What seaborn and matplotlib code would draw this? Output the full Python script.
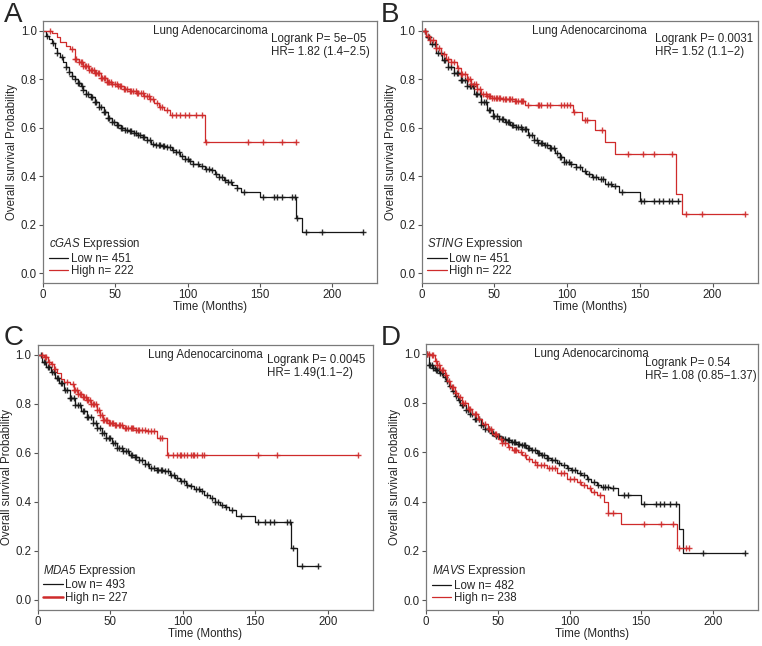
import numpy as np
import pandas as pd
import seaborn as sns
import matplotlib.pyplot as plt

# ---- data (time in months, survival probability) ----
A_LOW_T = [0, 2, 4, 6, 8, 10, 12, 14, 16, 18, 20, 22, 24, 26, 28, 30, 33, 36, 39, 42, 45, 48, 51, 54, 57, 60, 63, 66, 69, 72,
           75, 78, 82, 86, 89, 92, 95, 98, 101, 104, 108, 112, 116, 119, 122, 125, 128, 131, 134, 137, 150, 175, 179, 221]
A_LOW_S = [1.0, 0.98, 0.965, 0.95, 0.93, 0.91, 0.89, 0.87, 0.85, 0.83, 0.815, 0.80, 0.785, 0.77, 0.755, 0.74, 0.725, 0.705,
           0.685, 0.665, 0.64, 0.625, 0.61, 0.60, 0.592, 0.585, 0.578, 0.572, 0.562, 0.548, 0.535, 0.528, 0.524, 0.52, 0.51,
           0.498, 0.485, 0.47, 0.462, 0.452, 0.442, 0.432, 0.425, 0.41, 0.398, 0.385, 0.375, 0.362, 0.35, 0.337, 0.315,
           0.228, 0.17, 0.17]
A_LOW_CENS = [3, 7, 10, 13, 16, 18, 20, 22, 24, 25, 27, 28, 30, 31, 33, 34, 36, 37, 39, 40, 42, 43, 45, 46, 48, 49, 51,
              52, 54, 55, 57, 58, 60, 61, 63, 64, 66, 67, 69, 70, 72, 74, 76, 78, 80, 81, 83, 84, 86, 88, 90, 92, 94, 96,
              98, 100, 102, 104, 107, 110, 113, 115, 117, 120, 122, 124, 126, 128, 130, 134, 139, 152, 160, 162, 165,
              172, 174, 176, 182, 193, 221]
A_HIGH_T = [0, 6, 10, 12, 16, 19, 22, 25, 28, 32, 36, 40, 44, 48, 52, 56, 60, 65, 70, 74, 77, 80, 84, 88, 112, 175]
A_HIGH_S = [1.0, 0.99, 0.975, 0.955, 0.935, 0.925, 0.885, 0.87, 0.855, 0.84, 0.825, 0.805, 0.79, 0.78, 0.77, 0.76, 0.752,
            0.742, 0.732, 0.72, 0.70, 0.685, 0.675, 0.652, 0.543, 0.543]
A_HIGH_CENS = [5, 20, 22, 23, 25, 26, 27, 28, 29, 30, 31, 32, 33, 34, 35, 36, 37, 38, 39, 40, 41, 42, 43, 44, 45, 46, 47,
               48, 50, 51, 52, 53, 54, 56, 57, 58, 60, 61, 62, 64, 65, 66, 68, 69, 70, 72, 73, 74, 76, 79, 81, 82, 86,
               89, 92, 95, 98, 101, 106, 110, 113, 142, 152, 165, 175]

B_LOW_T = [0, 3, 6, 10, 14, 18, 22, 27, 31, 36, 41, 45, 49, 53, 57, 61, 65, 69, 73, 77, 80, 84, 88, 92, 95, 98, 102, 106,
           110, 113, 117, 121, 126, 131, 136, 150, 177]
B_LOW_S = [1.0, 0.975, 0.945, 0.91, 0.88, 0.85, 0.825, 0.795, 0.77, 0.74, 0.705, 0.675, 0.65, 0.635, 0.625, 0.613, 0.603,
           0.595, 0.57, 0.55, 0.536, 0.527, 0.518, 0.495, 0.478, 0.46, 0.45, 0.44, 0.42, 0.408, 0.398, 0.388, 0.37, 0.36,
           0.335, 0.30, 0.30]
B_LOW_CENS = [2, 4, 5, 7, 9, 11, 13, 15, 16, 18, 20, 22, 24, 25, 27, 28, 30, 31, 33, 34, 35, 37, 38, 40, 41, 43, 44, 46,
              47, 49, 50, 52, 53, 55, 56, 58, 59, 60, 62, 63, 65, 66, 68, 69, 71, 72, 74, 76, 77, 79, 80, 82, 83, 85, 86,
              88, 89, 91, 93, 95, 96, 98, 99, 101, 103, 106, 109, 112, 115, 118, 120, 123, 125, 128, 130, 133, 138, 151,
              153, 160, 163, 166, 170, 172, 176]
B_HIGH_T = [0, 3, 6, 10, 13, 17, 20, 24, 27, 31, 34, 38, 41, 45, 48, 55, 64, 71, 104, 110, 119, 126, 133, 175, 179, 222]
B_HIGH_S = [1.0, 0.98, 0.96, 0.93, 0.905, 0.885, 0.87, 0.845, 0.822, 0.80, 0.78, 0.76, 0.74, 0.73, 0.724, 0.717, 0.71,
            0.694, 0.665, 0.63, 0.59, 0.54, 0.49, 0.326, 0.245, 0.245]
B_HIGH_CENS = [2, 4, 6, 8, 10, 12, 15, 18, 20, 22, 25, 27, 28, 30, 32, 33, 34, 36, 37, 38, 40, 42, 44, 45, 46, 47, 48, 50,
               51, 52, 53, 54, 56, 57, 58, 60, 61, 62, 64, 65, 66, 68, 69, 70, 73, 80, 81, 82, 86, 88, 96, 98, 100, 102,
               105, 112, 114, 124, 142, 152, 160, 172, 182, 193, 222]

C_LOW_T = [0, 3, 6, 9, 12, 15, 18, 22, 26, 30, 34, 38, 41, 44, 47, 51, 55, 59, 63, 67, 70, 74, 77, 82, 87, 91, 95, 98,
           102, 105, 108, 112, 115, 119, 122, 126, 129, 132, 137, 150, 175, 179, 193]
C_LOW_S = [1.0, 0.97, 0.95, 0.93, 0.905, 0.884, 0.855, 0.823, 0.795, 0.77, 0.745, 0.72, 0.70, 0.68, 0.66, 0.64, 0.62,
           0.605, 0.592, 0.582, 0.571, 0.553, 0.537, 0.53, 0.524, 0.51, 0.495, 0.483, 0.47, 0.463, 0.452, 0.442, 0.428,
           0.415, 0.40, 0.388, 0.378, 0.367, 0.343, 0.316, 0.211, 0.14, 0.14]
C_LOW_CENS = [2, 4, 5, 7, 8, 10, 11, 13, 14, 16, 17, 19, 20, 22, 23, 25, 26, 28, 29, 31, 32, 34, 35, 37, 38, 40, 41, 43,
              44, 46, 47, 49, 50, 52, 53, 55, 56, 58, 59, 61, 62, 64, 65, 67, 68, 70, 72, 74, 76, 78, 80, 82, 83, 85, 86,
              88, 90, 92, 94, 96, 99, 101, 103, 106, 109, 111, 113, 117, 120, 122, 124, 127, 130, 134, 140, 152, 157,
              160, 163, 172, 174, 176, 182, 193]
C_HIGH_T = [0, 4, 7, 9, 11, 13, 16, 18, 22, 25, 28, 31, 34, 37, 41, 43, 45, 49, 53, 59, 68, 75, 82, 89, 221]
C_HIGH_S = [1.0, 0.99, 0.97, 0.96, 0.94, 0.925, 0.90, 0.89, 0.878, 0.855, 0.84, 0.825, 0.815, 0.80, 0.775, 0.755, 0.735,
            0.72, 0.712, 0.70, 0.694, 0.687, 0.66, 0.592, 0.592]
C_HIGH_CENS = [3, 5, 6, 8, 10, 12, 20, 24, 25, 26, 27, 28, 29, 30, 31, 32, 33, 34, 35, 36, 37, 38, 39, 40, 41, 42, 43,
               44, 45, 46, 47, 48, 49, 50, 51, 52, 53, 54, 56, 57, 58, 60, 61, 62, 64, 65, 66, 68, 69, 70, 72, 74, 76,
               78, 80, 84, 86, 90, 93, 96, 98, 99, 101, 103, 106, 107, 108, 110, 113, 115, 152, 165, 221]

D_LOW_T = [0, 2, 5, 7, 10, 12, 14, 16, 18, 20, 22, 24, 28, 31, 34, 38, 41, 45, 48, 52, 56, 59, 63, 66, 70, 73, 77, 80,
           84, 87, 91, 94, 98, 101, 105, 108, 112, 115, 119, 122, 128, 134, 150, 176, 179, 222]
D_LOW_S = [1.0, 0.953, 0.94, 0.932, 0.92, 0.905, 0.89, 0.87, 0.85, 0.83, 0.81, 0.79, 0.77, 0.757, 0.735, 0.71, 0.695,
           0.676, 0.665, 0.655, 0.648, 0.642, 0.635, 0.628, 0.617, 0.608, 0.597, 0.588, 0.578, 0.568, 0.555, 0.547, 0.535,
           0.527, 0.515, 0.507, 0.49, 0.48, 0.468, 0.46, 0.453, 0.426, 0.388, 0.29, 0.193, 0.193]
D_LOW_CENS = [1, 2, 3, 4, 5, 6, 7, 8, 9, 10, 11, 13, 15, 17, 19, 21, 23, 25, 26, 28, 29, 31, 32, 34, 35, 37, 38, 40, 41,
              43, 44, 46, 47, 49, 50, 51, 53, 54, 55, 57, 58, 60, 61, 62, 64, 65, 67, 68, 69, 71, 72, 74, 76, 78, 79,
              81, 82, 84, 85, 88, 90, 93, 96, 99, 102, 104, 107, 110, 113, 117, 120, 123, 125, 127, 130, 138, 141, 152,
              160, 163, 166, 170, 174, 193, 222]
D_HIGH_T = [0, 3, 6, 8, 10, 13, 15, 17, 20, 22, 25, 29, 32, 36, 39, 43, 46, 50, 53, 57, 60, 64, 67, 70, 74, 77, 84, 91,
            98, 105, 108, 112, 115, 119, 124, 127, 136, 175, 183]
D_HIGH_S = [1.0, 0.993, 0.97, 0.953, 0.935, 0.912, 0.89, 0.865, 0.84, 0.824, 0.80, 0.777, 0.755, 0.736, 0.715, 0.696,
            0.675, 0.655, 0.637, 0.62, 0.61, 0.60, 0.588, 0.574, 0.56, 0.547, 0.534, 0.514, 0.493, 0.48, 0.467, 0.453,
            0.44, 0.426, 0.40, 0.355, 0.31, 0.21, 0.21]
D_HIGH_CENS = [1, 2, 4, 5, 7, 8, 9, 11, 12, 14, 16, 18, 19, 21, 24, 26, 27, 30, 31, 34, 35, 37, 41, 44, 45, 48, 49, 52,
               53, 55, 58, 61, 62, 63, 66, 69, 72, 76, 77, 80, 82, 86, 88, 90, 94, 96, 100, 103, 107, 110, 114, 117,
               121, 127, 130, 152, 164, 172, 176, 181, 183]

LETTERS = ['A', 'B', 'C', 'D']
GENES = ['cGAS', 'STING', 'MDA5', 'MAVS']
N_LOW = [451, 451, 493, 482]
N_HIGH = [222, 222, 227, 238]
LOGRANK_P = ['5e\u221205', '0.0031', '0.0045', '0.54']
HR_TEXT = ['1.82 (1.4\u22122.5)', '1.52 (1.1\u22122)', '1.49(1.1\u22122)', '1.08 (0.85\u22121.37)']

LOW_COLOR = '#161616'
HIGH_COLOR = '#cf2b2b'

sns.set_theme(style='ticks')
plt.rcParams['font.family'] = ['Liberation Sans', 'DejaVu Sans']
plt.rcParams['mathtext.fontset'] = 'custom'
plt.rcParams['mathtext.rm'] = 'Liberation Sans'
plt.rcParams['mathtext.sf'] = 'Liberation Sans:italic'


def surv_at(times, surv, t):
    idx = np.searchsorted(times, t, side='right') - 1
    return np.asarray(surv)[idx]


def km_panel(ax, low, high, gene, n_low, n_high, p_txt, hr_txt, text_x, text_y, high_lw=0.9):
    for (t, s, cens), color in [(low, LOW_COLOR), (high, HIGH_COLOR)]:
        df = pd.DataFrame({'time': t, 'surv': s})
        sns.lineplot(data=df, x='time', y='surv', ax=ax, color=color, lw=0.9,
                     drawstyle='steps-post', estimator=None, sort=True)
        cy = surv_at(np.asarray(t), s, np.asarray(cens))
        ax.plot(cens, cy, ls='none', marker='+', ms=5, mew=1.0, color=color, alpha=0.9)

    ax.set_xlim(0, 231)
    ax.set_ylim(-0.04, 1.04)
    ax.set_xticks([0, 50, 100, 150, 200])
    ax.set_yticks([0.0, 0.2, 0.4, 0.6, 0.8, 1.0])
    ax.set_yticklabels(['0.0', '0.2', '0.4', '0.6', '0.8', '1.0'])
    ax.set_xlabel('Time (Months)', fontsize=8.3, labelpad=0)
    ax.set_ylabel('Overall survival Probability', fontsize=8.3, labelpad=2)
    ax.tick_params(labelsize=8.3, length=3, width=0.8, pad=1.5, color='#555555')
    for sp in ax.spines.values():
        sp.set_visible(True)
        sp.set_color('#7a7a7a')
        sp.set_linewidth(0.9)

    ax.text(0.5, 0.985, 'Lung Adenocarcinoma', transform=ax.transAxes, ha='center', va='top', fontsize=8.3)
    ax.text(text_x, text_y, f'Logrank P= {p_txt}\nHR= {hr_txt}', transform=ax.transAxes,
            ha='left', va='top', fontsize=8.3, linespacing=1.15)

    handles = [plt.Line2D([], [], color=LOW_COLOR, lw=0.9),
               plt.Line2D([], [], color=HIGH_COLOR, lw=high_lw)]
    ax.legend(handles, [f'Low n= {n_low}', f'High n= {n_high}'],
              title=f'$\\mathsf{{{gene}}}$ Expression', loc='lower left', frameon=False,
              fontsize=8.3, title_fontsize=8.3, handlelength=1.7, handletextpad=0.2,
              labelspacing=0.05, borderaxespad=0.2, borderpad=0.3, alignment='left')


fig = plt.figure(figsize=(7.62, 6.46), dpi=100)
positions = [[0.0564, 0.5619, 0.4383, 0.4056],
             [0.5534, 0.5619, 0.4409, 0.4056],
             [0.0495, 0.0562, 0.4396, 0.4102],
             [0.5590, 0.0557, 0.4353, 0.4122]]
curves = [((A_LOW_T, A_LOW_S, A_LOW_CENS), (A_HIGH_T, A_HIGH_S, A_HIGH_CENS)),
          ((B_LOW_T, B_LOW_S, B_LOW_CENS), (B_HIGH_T, B_HIGH_S, B_HIGH_CENS)),
          ((C_LOW_T, C_LOW_S, C_LOW_CENS), (C_HIGH_T, C_HIGH_S, C_HIGH_CENS)),
          ((D_LOW_T, D_LOW_S, D_LOW_CENS), (D_HIGH_T, D_HIGH_S, D_HIGH_CENS))]
text_pos = [(0.682, 0.955), (0.694, 0.955), (0.684, 0.965), (0.661, 0.95)]
letter_pos = [(0.005, 0.997), (0.500, 0.997), (0.005, 0.497), (0.500, 0.497)]

for i in range(4):
    ax = fig.add_axes(positions[i])
    km_panel(ax, curves[i][0], curves[i][1], GENES[i], N_LOW[i], N_HIGH[i], LOGRANK_P[i], HR_TEXT[i],
             text_pos[i][0], text_pos[i][1], high_lw=1.8 if i == 2 else 0.9)
    fig.text(letter_pos[i][0], letter_pos[i][1], LETTERS[i], fontsize=20, ha='left', va='top')

fig.savefig('out.png', dpi=100)
